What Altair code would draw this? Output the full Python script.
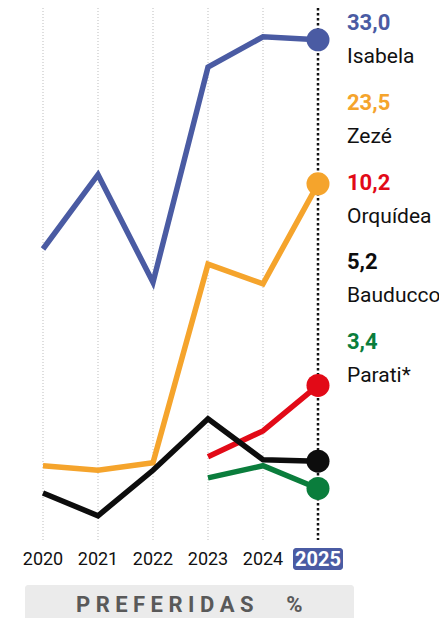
import altair as alt
import pandas as pd

# ---- data ----
years = [2020, 2021, 2022, 2023, 2024, 2025]
brands = ["Isabela", "Zezé", "Orquídea", "Bauducco", "Parati*"]
colors = ["#4a5ba3", "#f5a42c", "#e20a17", "#0d0d0d", "#0a7d3c"]
isabela = [19.2, 24.1, 17.0, 31.2, 33.2, 33.0]
zeze = [4.9, 4.6, 5.1, 18.2, 16.9, 23.5]
orquidea = [None, None, None, 5.5, 7.2, 10.2]
bauducco = [3.1, 1.6, 4.6, 8.0, 5.3, 5.2]
parati = [None, None, None, 4.1, 4.9, 3.4]
series = [isabela, zeze, orquidea, bauducco, parati]
highlight_year = 2025
footer = "PREFERIDAS %"

FONT = "Roboto, 'Liberation Sans', sans-serif"

rows = []
for i, (b, vals) in enumerate(zip(brands, series)):
    for yr, v in zip(years, vals):
        if v is not None:
            rows.append({"brand": b, "year": yr, "value": v, "order": i})
df = pd.DataFrame(rows)

year_df = pd.DataFrame({"year": years, "label": [str(y) for y in years]})
lab_df = pd.DataFrame({
    "brand": brands,
    "slot": list(range(len(brands))),
    "valtxt": [f"{s[-1]:.1f}".replace(".", ",") for s in series],
})
one = pd.DataFrame({"k": [0]})

xs = alt.Scale(domain=[2020, 2025], nice=False, zero=False)
ys = alt.Scale(domain=[0, 35.1], nice=False, zero=False)
cs = alt.Scale(domain=brands, range=colors)
X = alt.X("year:Q", scale=xs, axis=None)
Y = alt.Y("value:Q", scale=ys, axis=None)
C = alt.Color("brand:N", scale=cs, legend=None)

grid = alt.Chart(year_df).transform_filter(alt.datum.year < highlight_year).mark_rule(
    strokeWidth=1, strokeDash=[1, 2], color="#bdbdbd").encode(x=X)
grid25 = alt.Chart(year_df).transform_filter(alt.datum.year == highlight_year).mark_rule(
    strokeWidth=2.5, strokeDash=[2.5, 2.5], color="#111111").encode(x=X)

lines = alt.Chart(df).mark_line(strokeWidth=5.5).encode(
    x=X, y=Y, color=C, detail="brand:N", order="year:Q")
dots = alt.Chart(df).transform_filter(alt.datum.year == highlight_year).mark_circle(
    size=530, opacity=1).encode(x=X, y=Y, color=C, order="order:Q")

year_txt = alt.Chart(year_df).transform_filter(alt.datum.year < highlight_year).mark_text(
    baseline="alphabetic", fontSize=18, font=FONT, color="#111111").encode(
    x=X, y=alt.value(557), text="label:N")
box25 = alt.Chart(year_df).transform_filter(alt.datum.year == highlight_year).mark_rect(
    xOffset=-25, x2Offset=25, cornerRadius=3, color="#4a5ba3").encode(
    x=X, x2="year:Q", y=alt.value(540), y2=alt.value(562))
year25 = alt.Chart(year_df).transform_filter(alt.datum.year == highlight_year).mark_text(
    baseline="alphabetic", fontSize=20, font=FONT, fontWeight="bold", color="white").encode(
    x=X, y=alt.value(558), text="label:N")

SY = alt.Y("slot:Q", scale=alt.Scale(domain=[0, 4], range=[22, 341]), axis=None)
val_txt = alt.Chart(lab_df).mark_text(
    align="left", baseline="alphabetic", fontSize=22, fontWeight="bold", font=FONT).encode(
    x=alt.value(304), y=SY, text="valtxt:N", color=C)
name_txt = alt.Chart(lab_df).mark_text(
    align="left", baseline="alphabetic", dy=33, fontSize=21, font=FONT, color="#111111").encode(
    x=alt.value(304), y=SY, text="brand:N")

foot_box = alt.Chart(one).mark_rect(cornerRadius=3, color="#ebebeb").encode(
    x=alt.value(-18), x2=alt.value(311), y=alt.value(577), y2=alt.value(630))
sep = "\u00a0"
spaced = sep.join(list(footer.replace(" %", ""))) + "\u00a0" * 6 + "%"
foot_txt = alt.Chart(one).mark_text(
    align="left", baseline="alphabetic", fontSize=22, fontWeight="bold", font=FONT,
    color="#595959").encode(x=alt.value(33), y=alt.value(604), text=alt.value(spaced))

chart = alt.layer(
    grid, grid25, lines, dots, box25, year_txt, year25, val_txt, name_txt, foot_box, foot_txt
).resolve_scale(y="independent").properties(
    width=275, height=532,
    autosize=alt.AutoSizeParams(type="none"),
    padding={"left": 35, "top": 0, "right": 121, "bottom": 78},
).configure_view(stroke=None)

chart.save("out.html", embed_options={"renderer": "svg", "actions": False})
